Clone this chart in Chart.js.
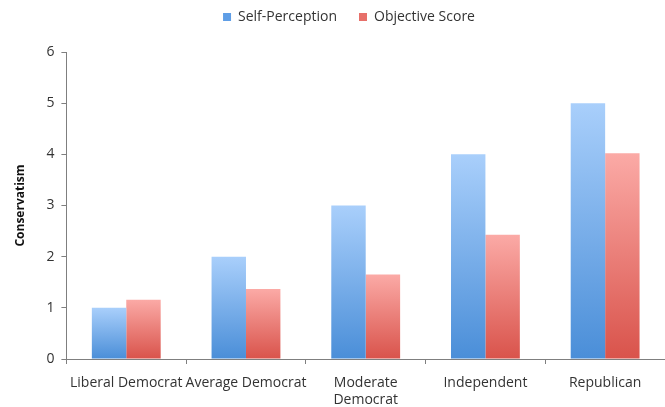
<!DOCTYPE html>
<html>
<head>
<meta charset="utf-8">
<script src="https://cdn.jsdelivr.net/npm/chart.js@4/dist/chart.umd.min.js"></script>
<style>
html, body { margin: 0; padding: 0; background: #fff; }
#wrap { width: 665px; height: 407px; }
</style>
</head>
<body>
<div id="wrap"><canvas id="barChart"></canvas></div>
<script>
// data
var categories = ["Liberal Democrat", "Average Democrat", ["Moderate", "Democrat"], "Independent", "Republican"];
var selfPerception = [1, 2, 3, 4, 5];
var objectiveScore = [1.16, 1.37, 1.65, 2.43, 4.02];
var yTicks = [0, 1, 2, 3, 4, 5, 6];

// each bar gets its own vertical gradient, light at the top
function barFill(top, bottom) {
  return function (context) {
    var chart = context.chart;
    if (!chart.chartArea || context.dataIndex === undefined) return bottom;
    var y = chart.scales.y;
    var v = context.dataset.data[context.dataIndex];
    var y0 = y.getPixelForValue(v);
    var y1 = y.getPixelForValue(0);
    var g = chart.ctx.createLinearGradient(0, y0, 0, y1);
    g.addColorStop(0, top);
    g.addColorStop(1, bottom);
    return g;
  };
}

// push the plot down below the legend, and centre the legend over the plot
var legendGap = {
  id: 'legendGap',
  beforeInit: function (chart) {
    var lg = chart.legend;
    var fit = lg.fit;
    lg.fit = function () {
      fit.bind(lg)();
      this.height += 18;
    };
    var draw = lg.draw;
    lg.draw = function () {
      chart.ctx.save();
      chart.ctx.translate(12, 0);
      draw.bind(lg)();
      chart.ctx.restore();
    };
  }
};

var font = "'Open Sans', 'DejaVu Sans', sans-serif";

var ctx = document.getElementById("barChart").getContext('2d');
var myBarChart = new Chart(ctx, {
  type: 'bar',
  data: {
    labels: categories,
    datasets: [{
      label: "Self-Perception",
      data: selfPerception,
      backgroundColor: barFill('#a9cffb', '#4a8ed8'),
      borderWidth: 0
    }, {
      label: "Objective Score",
      data: objectiveScore,
      backgroundColor: barFill('#fbaaa6', '#d9534b'),
      borderWidth: 0
    }]
  },
  options: {
    responsive: true,
    maintainAspectRatio: false,
    animation: false,
    categoryPercentage: 0.575,
    barPercentage: 1,
    layout: { padding: { top: -12, right: 0, left: 9, bottom: -12 } },
    plugins: {
      tooltip: { enabled: false },
      legend: {
        position: 'top',
        labels: {
          boxWidth: 8,
          boxHeight: 8,
          padding: 22,
          color: '#333',
          font: { family: font, size: 14 },
          generateLabels: function (chart) {
            var cols = ['#5f9ee6', '#e7706a'];
            return chart.data.datasets.map(function (ds, i) {
              return { text: ds.label, fillStyle: cols[i], strokeStyle: cols[i], lineWidth: 0, datasetIndex: i, fontColor: '#333' };
            });
          }
        }
      }
    },
    scales: {
      x: {
        grid: { display: true, drawOnChartArea: false, drawTicks: true, tickLength: 5, color: '#7f7f7f', offset: true },
        border: { color: '#7f7f7f', width: 1 },
        ticks: { color: '#333', font: { family: font, size: 14, lineHeight: 1.25 }, maxRotation: 0, autoSkip: false, padding: 10 }
      },
      y: {
        min: 0,
        max: 6,
        afterBuildTicks: function (axis) {
          axis.ticks = yTicks.map(function (v) { return { value: v }; });
        },
        grid: { display: true, drawOnChartArea: false, drawTicks: true, tickLength: 5, color: '#7f7f7f' },
        border: { color: '#7f7f7f', width: 1 },
        ticks: { color: '#333', font: { family: font, size: 14 }, padding: 7 },
        title: {
          display: true,
          text: 'Conservatism',
          color: '#111',
          font: { family: font, size: 12, weight: 'bold' },
          padding: { bottom: 12 }
        }
      }
    }
  },
  plugins: [legendGap]
});
</script>
</body>
</html>
